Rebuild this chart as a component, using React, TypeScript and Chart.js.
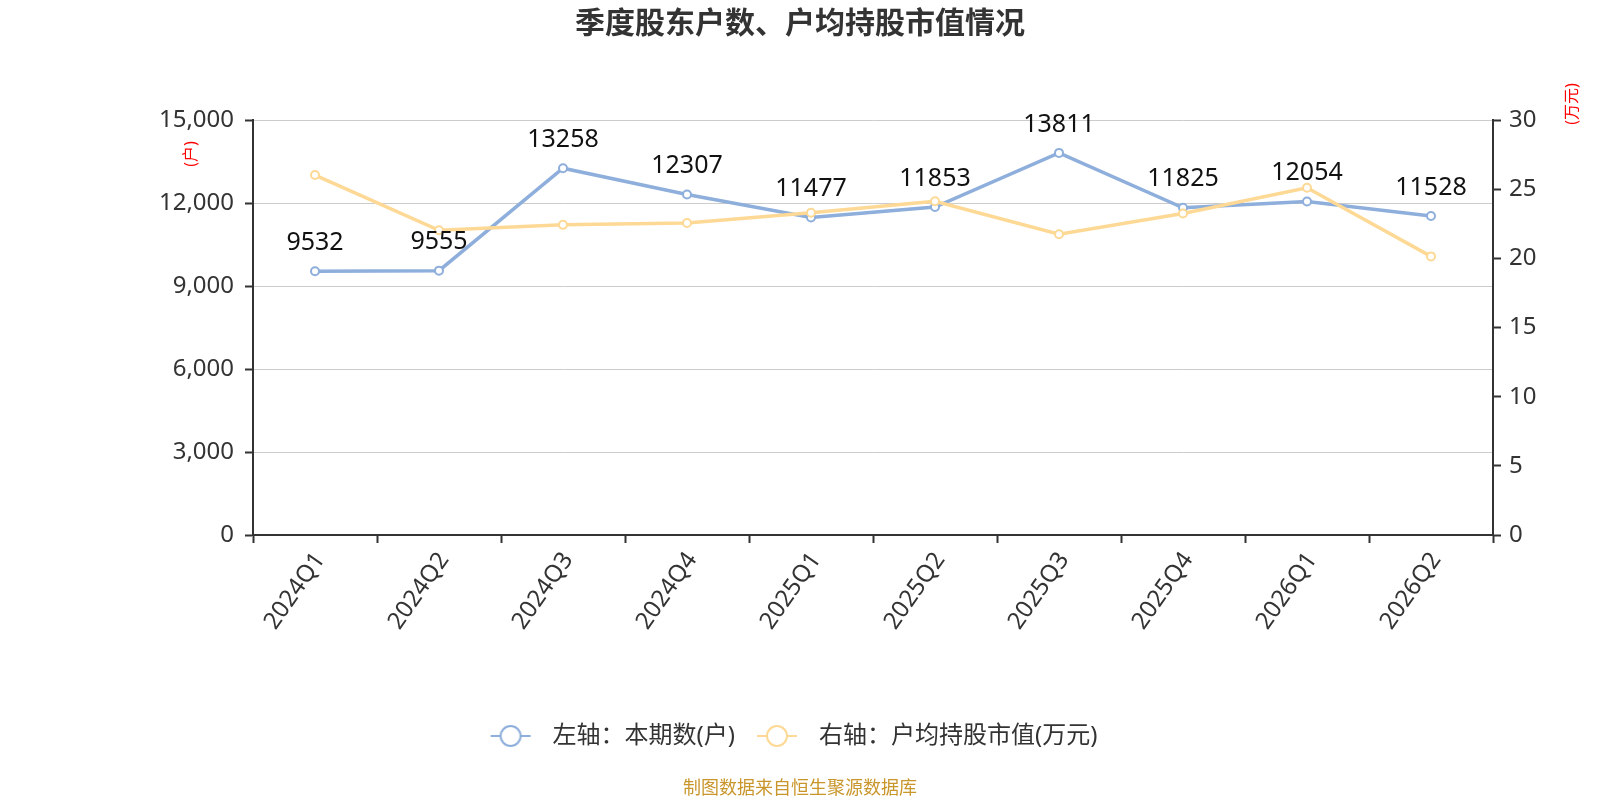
import { Chart, registerables } from "chart.js";
import { useEffect, useRef } from "react";

Chart.register(...registerables);

const quarters = ["2024Q1", "2024Q2", "2024Q3", "2024Q4", "2025Q1", "2025Q2", "2025Q3", "2025Q4", "2026Q1", "2026Q2"];
const holders = [9532, 9555, 13258, 12307, 11477, 11853, 13811, 11825, 12054, 11528];
const avgValue = [26.02, 22.03, 22.42, 22.56, 23.29, 24.13, 21.74, 23.24, 25.1, 20.14];

const titleText = "季度股东户数、户均持股市值情况";
const leftName = "左轴：本期数(户)";
const rightName = "右轴：户均持股市值(万元)";

const BLUE = "#8eaedb";
const YELLOW = "#fdd995";
const FONT = "'Noto Sans', 'Noto Sans CJK SC', sans-serif";

// legend marker: short line with a hollow circle on it
function marker(color: string) {
  const c = document.createElement("canvas");
  c.width = 54;
  c.height = 26;
  const ctx = c.getContext("2d")!;
  ctx.strokeStyle = color;
  ctx.lineWidth = 2;
  ctx.beginPath();
  ctx.moveTo(4, 13);
  ctx.lineTo(44, 13);
  ctx.stroke();
  ctx.beginPath();
  ctx.arc(24, 13, 10, 0, Math.PI * 2);
  ctx.fillStyle = "#fff";
  ctx.fill();
  ctx.stroke();
  return c;
}

const extras = {
  id: "extras",
  afterDatasetsDraw(chart: any) {
    const ctx = chart.ctx;
    const meta = chart.getDatasetMeta(0);
    ctx.save();
    ctx.font = `25px ${FONT}`;
    ctx.fillStyle = "#111";
    ctx.textAlign = "center";
    ctx.textBaseline = "bottom";
    meta.data.forEach((pt: any, i: number) => {
      ctx.fillText(String(holders[i]), pt.x, pt.y - 16);
    });
    ctx.restore();
  },
  afterDraw(chart: any) {
    const ctx = chart.ctx;
    const area = chart.chartArea;
    ctx.save();
    ctx.textAlign = "center";
    ctx.textBaseline = "middle";

    // title, centred on the whole canvas
    ctx.fillStyle = "#333";
    ctx.font = `bold 30px ${FONT}`;
    ctx.fillText(titleText, chart.width / 2, 24);

    ctx.fillStyle = "#ff0000";
    ctx.save();
    ctx.translate(area.left - 62, area.top + 34);
    ctx.rotate(-Math.PI / 2);
    ctx.font = `16px ${FONT}`;
    ctx.fillText("(户)", 0, 0);
    ctx.restore();

    ctx.save();
    ctx.translate(area.right + 79, area.top - 16);
    ctx.rotate(-Math.PI / 2);
    ctx.font = `16px ${FONT}`;
    ctx.fillText("(万元)", 0, 0);
    ctx.restore();

    ctx.font = `18px ${FONT}`;
    ctx.fillStyle = "#c9962b";
    ctx.fillText("制图数据来自恒生聚源数据库", chart.width / 2, 789);
    ctx.restore();
  },
};

export default function App() {
  const canvasRef = useRef<HTMLCanvasElement | null>(null);

  useEffect(() => {
    if (!canvasRef.current) return;
    const chart = new Chart(canvasRef.current, {
      type: "line",
      data: {
        labels: quarters,
        datasets: [
          {
            label: leftName,
            data: holders,
            yAxisID: "y",
            borderColor: BLUE,
            backgroundColor: "#fff",
            borderWidth: 3.5,
            pointRadius: 4,
            pointBorderWidth: 2,
            pointBorderColor: BLUE,
            pointBackgroundColor: "#fff",
            pointStyle: "circle",
            order: 1,
          },
          {
            label: rightName,
            data: avgValue,
            yAxisID: "y1",
            borderColor: YELLOW,
            backgroundColor: "#fff",
            borderWidth: 3.5,
            pointRadius: 4,
            pointBorderWidth: 2,
            pointBorderColor: YELLOW,
            pointBackgroundColor: "#fff",
            pointStyle: "circle",
            order: 0,
          },
        ],
      },
      options: {
        animation: false,
        responsive: true,
        maintainAspectRatio: false,
        layout: { padding: { top: 120, left: 0, right: 16, bottom: 42 } },
        plugins: {
          title: { display: false },
          legend: {
            position: "bottom",
            labels: {
              usePointStyle: true,
              pointStyleWidth: 54,
              boxHeight: 26,
              padding: 18,
              color: "#333",
              font: { family: FONT, size: 24 },
              sort: (a: any, b: any) => a.datasetIndex - b.datasetIndex,
              generateLabels: (chart: any) =>
                chart.data.datasets.map((ds: any, i: number) => ({
                  text: ds.label,
                  datasetIndex: i,
                  pointStyle: marker(i === 0 ? BLUE : YELLOW),
                  fillStyle: "#fff",
                  strokeStyle: ds.borderColor,
                  lineWidth: 0,
                  fontColor: "#333",
                  hidden: false,
                })),
            },
          },
          tooltip: { enabled: false },
        },
        scales: {
          x: {
            offset: true,
            afterFit: (s: any) => {
              s.height = 171;
            },
            border: { color: "#333", width: 2 },
            grid: {
              offset: true,
              drawOnChartArea: false,
              tickColor: "#333",
              tickLength: 8,
              tickWidth: 2,
            },
            ticks: {
              color: "#333",
              font: { family: FONT, size: 24 },
              minRotation: 55,
              maxRotation: 55,
              padding: 4,
              labelOffset: 5,
              autoSkip: false,
            },
          },
          y: {
            position: "left",
            min: 0,
            max: 15000,
            afterFit: (s: any) => {
              s.width = 253;
            },
            border: { color: "#333", width: 2 },
            grid: {
              color: "#ccc",
              lineWidth: 1,
              tickColor: "#333",
              tickLength: 8,
              tickWidth: 2,
            },
            ticks: {
              stepSize: 3000,
              color: "#333",
              padding: 11,
              font: { family: FONT, size: 24 },
            },
          },
          y1: {
            position: "right",
            min: 0,
            max: 30,
            afterFit: (s: any) => {
              s.width = 91;
            },
            border: { color: "#333", width: 2 },
            grid: {
              drawOnChartArea: false,
              tickColor: "#333",
              tickLength: 8,
              tickWidth: 2,
            },
            ticks: {
              stepSize: 5,
              color: "#333",
              padding: 8,
              font: { family: FONT, size: 24 },
            },
          },
        },
      },
      plugins: [extras],
    });
    return () => chart.destroy();
  }, []);

  return (
    <div style={{ position: "fixed", left: 0, top: 0, width: 1600, height: 800, background: "#fff" }}>
      <canvas ref={canvasRef} />
    </div>
  );
}
